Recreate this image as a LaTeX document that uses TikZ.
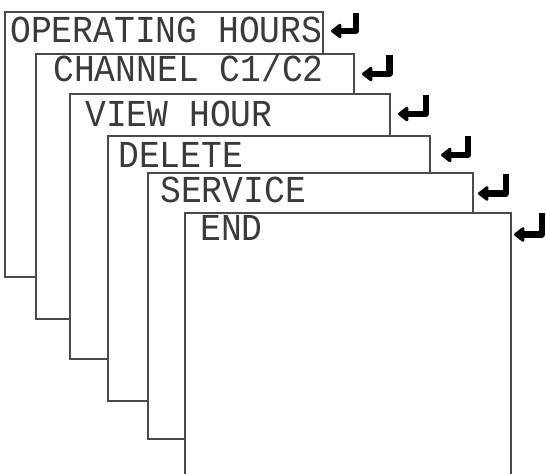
\documentclass[tikz,border=0pt]{standalone}
\usepackage{fontspec}
\setmonofont{Liberation Mono}
\usetikzlibrary{arrows.meta}
\definecolor{lcdtext}{HTML}{3A3A3A}
\definecolor{framegray}{HTML}{4A4A4A}
\newcommand{\lcdtxt}[1]{\scalebox{1.02}[1.12]{#1}}
\tikzset{
  screen/.style={draw=framegray, fill=white, line width=1pt},
  lcd/.style={anchor=base west, inner sep=0pt, text=lcdtext,
    font=\ttfamily\fontsize{25.5}{25.5}\selectfont},
  enterkey/.style={line width=4.6pt, line join=round,
    -{Triangle[length=8.5pt,width=12.5pt,round]}},
}
\begin{document}
\begin{tikzpicture}[x=0.75pt,y=-0.75pt]
\useasboundingbox (0,0) rectangle (546,474);
% stacked menu screens
\filldraw[screen] (5,12) rectangle (323,277);
\node[lcd] (operating) at (10,43) {\lcdtxt{OPERATING HOURS}};
\filldraw[screen] (36,54) rectangle (354,319);
\node[lcd] (channel) at (53,82) {\lcdtxt{CHANNEL C1/C2}};
\filldraw[screen] (70,94) rectangle (390,359);
\node[lcd] (viewhour) at (85,127) {\lcdtxt{VIEW HOUR}};
\filldraw[screen] (108,136) rectangle (430,401);
\node[lcd] (delete) at (118,168) {\lcdtxt{DELETE}};
\filldraw[screen] (148,173) rectangle (473,439);
\node[lcd] (service) at (160,203) {\lcdtxt{SERVICE}};
\fill[white] (185,213) rectangle (511,476);
\draw[screen] (185,476) -- (185,213) -- (511,213) -- (511,476);
\node[lcd] (finish) at (200,240) {\lcdtxt{END}};
% enter keys
\draw[enterkey] (356,13) -- (356,31) -- (331,31);
\draw[enterkey] (389.5,55) -- (389.5,74) -- (362,74);
\draw[enterkey] (426,95) -- (426,114) -- (398,114);
\draw[enterkey] (468,136) -- (468,155) -- (441,155);
\draw[enterkey] (506,174) -- (506,193.5) -- (478,193.5);
\draw[enterkey] (542,213) -- (542,234.5) -- (514,234.5);
\end{tikzpicture}
\end{document}
